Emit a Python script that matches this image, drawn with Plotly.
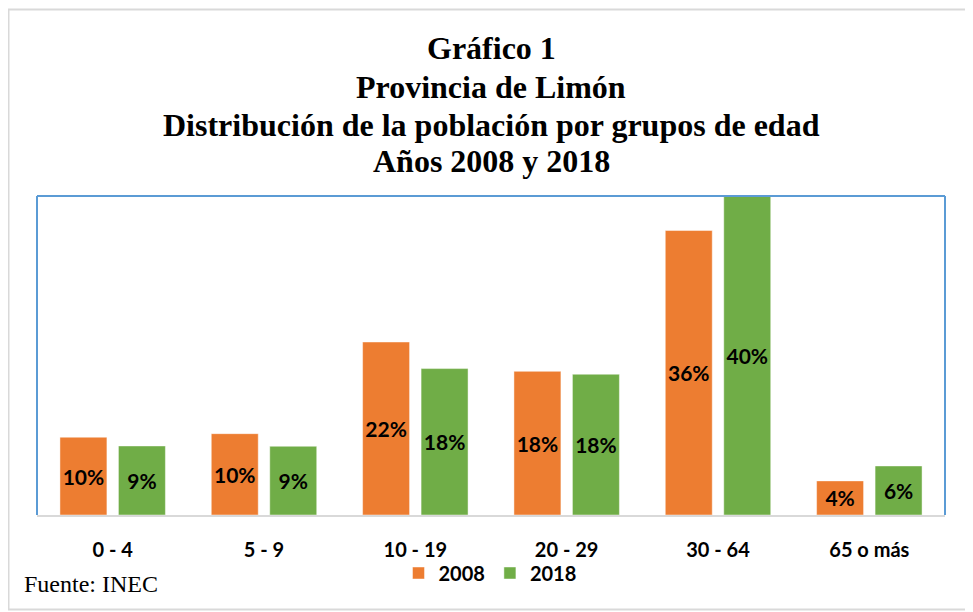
import plotly.graph_objects as go

categories = ["0 - 4", "5 - 9", "10 - 19", "20 - 29", "30 - 64", "65 o más"]
values_2008 = [9.8, 10.25, 21.8, 18.1, 35.85, 4.3]
values_2018 = [8.7, 8.66, 18.45, 17.74, 40.27, 6.18]
series_names = ["2008", "2018"]
title_lines = ["Gráfico 1", "Provincia de Limón",
               "Distribución de la población por grupos de edad",
               "Años 2008 y 2018"]
source_text = "Fuente: INEC"

# page body has an 8px margin: work in page pixels, convert to figure pixels
OFF = 8
W, H = 973 - OFF, 612 - OFF
L, R, T, B = 37 - OFF, 945 - OFF, 196 - OFF, 515 - OFF
pw, ph = R - L, B - T

def py(ypage):
    return (B - (ypage - OFF)) / ph

def px(xpage):
    return ((xpage - OFF) - L) / pw

colors = ["#ED7D31", "#70AD47"]
label_font = dict(family="Lato", size=21, color="black")

fig = go.Figure()
for name, vals, col in zip(series_names, [values_2008, values_2018], colors):
    fig.add_trace(go.Bar(
        x=categories, y=vals, name=f"<b>{name}</b>",
        marker=dict(color=col, line=dict(color="rgba(255,255,255,0.45)", width=1)),
        text=[f"<b>{round(v):.0f}%</b>" for v in vals],
        textposition="inside", insidetextanchor="middle",
        textfont=label_font, insidetextfont=label_font,
        textangle=0, constraintext="none",
        hoverinfo="skip",
    ))

annotations = []
for text, yc in zip(title_lines, [48, 87, 125, 161]):
    annotations.append(dict(
        text=f"<b>{text}</b>", xref="paper", yref="paper",
        x=px(491), y=py(yc), xanchor="center", yanchor="middle",
        showarrow=False,
        font=dict(family="Liberation Serif", size=32, color="black")))
annotations.append(dict(
    text=source_text, xref="paper", yref="paper",
    x=px(22), y=py(584), xanchor="left", yanchor="middle", showarrow=False,
    font=dict(family="Liberation Serif", size=24, color="black")))

shapes = [
    # outer frame
    dict(type="rect", xref="paper", yref="paper",
         x0=px(8.5), x1=px(990), y0=py(609.5), y1=py(9.5),
         line=dict(color="#D9D9D9", width=2), layer="below"),
    # plot area border (blue) left, top, right
    dict(type="line", xref="paper", yref="paper", x0=0, x1=1, y0=1, y1=1,
         line=dict(color="#5B9BD5", width=2)),
    dict(type="line", xref="paper", yref="paper", x0=0, x1=0, y0=0, y1=1,
         line=dict(color="#5B9BD5", width=2)),
    dict(type="line", xref="paper", yref="paper", x0=1, x1=1, y0=0, y1=1,
         line=dict(color="#5B9BD5", width=2)),
]

fig.update_layout(
    width=W, height=H,
    margin=dict(l=L, r=W - R, t=T, b=H - B, pad=0),
    paper_bgcolor="white", plot_bgcolor="white",
    barmode="group", bargap=0.227, bargroupgap=0.197,
    showlegend=True,
    legend=dict(orientation="h", x=px(490), xanchor="center",
                y=py(573), yanchor="middle", bgcolor="rgba(0,0,0,0)",
                itemwidth=30,
                font=dict(family="Lato", size=20, color="black"),
                traceorder="normal"),
    xaxis=dict(showgrid=False, showline=True, linecolor="#D9D9D9", linewidth=2,
               ticks="", ticklabelstandoff=16,
               tickfont=dict(family="Lato", size=20, color="black"),
               tickvals=categories, ticktext=[f"<b>{c}</b>" for c in categories]),
    yaxis=dict(range=[0, 40.2], showgrid=False, showticklabels=False,
               zeroline=False, showline=False, ticks=""),
    annotations=annotations, shapes=shapes,
    font=dict(family="Lato"),
)

fig.write_html("out.html")
